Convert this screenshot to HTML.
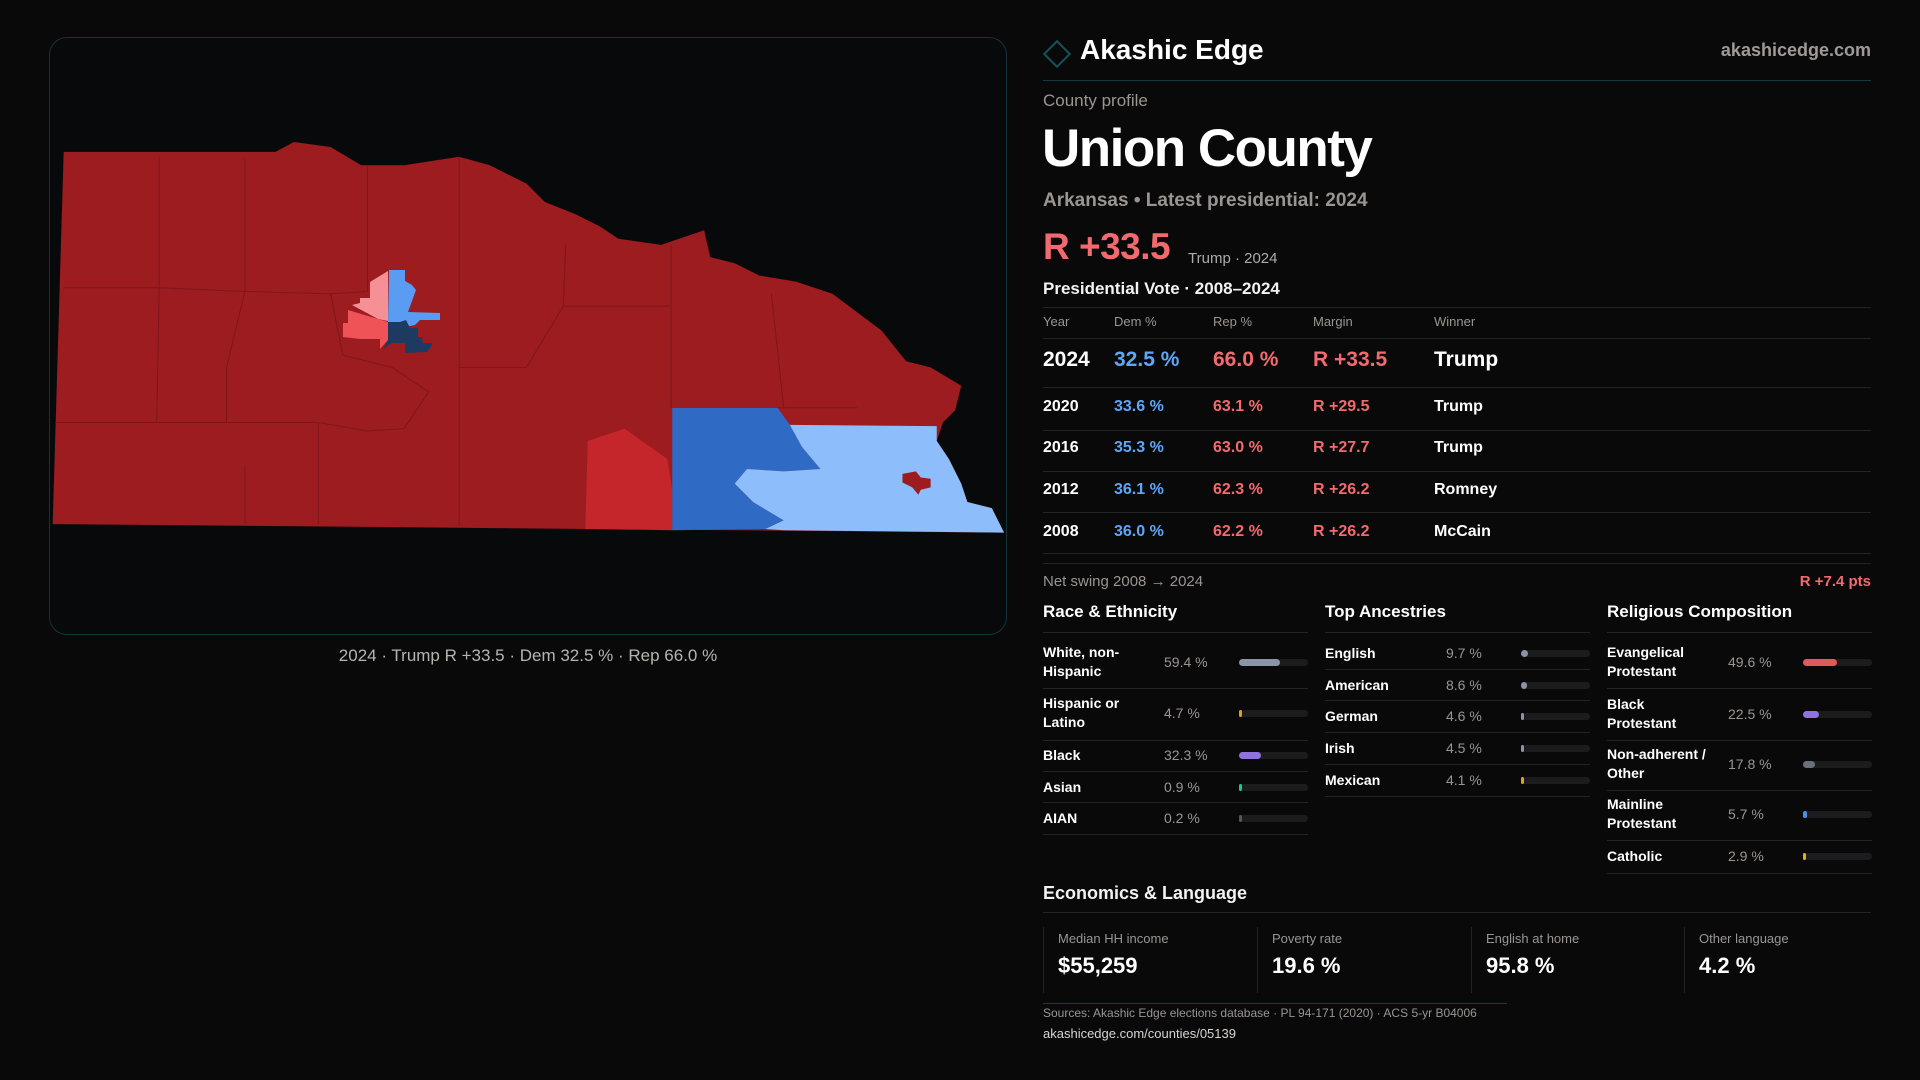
<!DOCTYPE html>
<html><head><meta charset="utf-8">
<style>
*{box-sizing:border-box;margin:0;padding:0}
body{width:1920px;height:1080px;background:#0a090a;font-family:"Liberation Sans",sans-serif;color:#f2f2f2;position:relative;overflow:hidden}
.a{position:absolute;white-space:nowrap}
.mut{color:#9a9590}
.red{color:#f26a6e}
.blue{color:#5ea6f7}
.row-line{position:absolute;height:1px;background:#242224}
.bar{position:absolute;height:7px;border-radius:4px;background:#1c1c1f}
.fill{position:absolute;left:0;top:0;height:7px;border-radius:4px}
</style></head><body>
<div class="a" style="left:49px;top:37px;width:958px;height:598px;border:1px solid #12343a;border-radius:18px;background:#08090a"></div>
<svg class="a" style="left:0;top:0" width="1920" height="1080" viewBox="0 0 1920 1080">
<g transform="scale(1.2245)">
<polygon fill="#9c1c20" points="52,124 225,124 240,116 270,120 295,135 330,135 375,128 400,135 430,150 445,165 470,175 490,185 505,195 540,200 575,188 580,210 600,215 620,225 650,230 680,240 700,255 720,270 740,295 760,300 785,315 780,335 770,345 765,360 775,375 785,395 790,410 810,415 820,435 43,428"/>
<g stroke="#7e1619" stroke-width="0.8" fill="none">
<path d="M52,235 L130,235 L130,128 M130,235 L200,238 L200,130 M200,238 L270,240 M270,240 L300,238 L300,135 M200,238 L185,300 L185,345 M130,235 L128,345 M45,345 L260,345 L260,370 M270,240 L280,290 L320,300 L350,320 L330,350 L300,352 L260,345 M375,128 L375,300 L430,300 L460,250 L462,200 M375,300 L375,430 M460,250 L548,250 L548,333 M548,250 L548,200 M548,333 L700,333 M630,240 L640,333 M200,380 L200,428 M260,370 L260,428"/>
</g>
<polygon fill="#c4262c" points="480,360 510,350 545,375 549,400 549,433 478,432"/>
<polygon fill="#2f6ac4" points="549,333 635,333 645,347 655,365 670,383 640,385 610,383 600,395 615,410 640,425 625,432 549,433"/>
<polygon fill="#8dbdfb" points="645,347 765,348 765,360 775,375 785,395 790,410 810,415 820,435 640,433 625,432 640,425 615,410 600,395 610,383 640,385 670,383 655,365"/>
<polygon fill="#9c1c20" points="737,387 748,385 752,390 760,391 760,398 752,400 750,404 745,398 737,394"/>
</g>
<polygon fill="#f59196" points="370,282 388,271 388,321 378,319 352,305 360,303 360,298 370,298"/>
<polygon fill="#ef5257" points="348,310 378,319 388,322 388,340 380,349 380,339 360,339 343,337 343,323 348,323"/>
<polygon fill="#5b9cf3" points="389,270 405,270 405,281 412,285 416,290 408,312 440,313 440,320 420,320 415,325 400,328 388,322"/>
<polygon fill="#1d3a60" points="388,322 400,322 406,320 410,328 418,328 418,337 422,337 423,343 432,343 432,345 427,352 405,353 405,343 392,343 383,349 388,340"/>
</svg>
<div class="a" style="left:0;width:1056px;text-align:center;top:646px;font-size:17px;color:#b8b3ae">2024 · Trump R +33.5 · Dem 32.5 % · Rep 66.0 %</div>

<div class="a" style="left:1047px;top:44px;width:20px;height:20px;border:2px solid #15535c;transform:rotate(45deg)"></div>
<div class="a" style="left:1080px;top:34px;font-size:28px;font-weight:bold;color:#fff">Akashic Edge</div>
<div class="a mut" style="right:49px;top:40px;font-size:18px;font-weight:bold;color:#a09a96">akashicedge.com</div>
<div class="a" style="left:1043px;top:80px;width:828px;height:1px;background:#173a40"></div>
<div class="a mut" style="left:1043px;top:91px;font-size:17px">County profile</div>
<div class="a" style="left:1042px;top:118px;font-size:53px;font-weight:bold;color:#fff;letter-spacing:-1.5px">Union County</div>
<div class="a mut" style="left:1043px;top:190px;font-size:19px;font-weight:bold">Arkansas • Latest presidential: 2024</div>
<div class="a red" style="left:1043px;top:226px;font-size:37px;font-weight:bold;letter-spacing:-0.5px">R +33.5</div>
<div class="a mut" style="left:1188px;top:250px;font-size:15px;color:#b0aaa5">Trump · 2024</div>
<div class="a" style="left:1043px;top:279px;font-size:17px;font-weight:bold">Presidential Vote · 2008–2024</div>

<div class="row-line" style="left:1043px;top:307px;width:828px"></div>
<div class="a mut" style="left:1043px;top:314px;font-size:13px">Year</div>
<div class="a mut" style="left:1114px;top:314px;font-size:13px">Dem %</div>
<div class="a mut" style="left:1213px;top:314px;font-size:13px">Rep %</div>
<div class="a mut" style="left:1313px;top:314px;font-size:13px">Margin</div>
<div class="a mut" style="left:1434px;top:314px;font-size:13px">Winner</div>
<div class="row-line" style="left:1043px;top:338px;width:828px"></div>
<div id="vt"></div>
<div class="row-line" style="left:1043px;top:563px;width:828px"></div>
<div class="a mut" style="left:1043px;top:573px;font-size:15px">Net swing 2008 → 2024</div>
<div class="a red" style="right:49px;top:573px;font-size:15px;font-weight:bold">R +7.4 pts</div>

<div id="sections"></div>

<div class="a" style="left:1043px;top:883px;font-size:18px;font-weight:bold">Economics &amp; Language</div>
<div class="row-line" style="left:1043px;top:912px;width:828px"></div>
<div id="econ"></div>
<div class="a" style="left:1043px;top:1003px;width:464px;height:1px;background:#173a40"></div>
<div class="a mut" style="left:1043px;top:1006px;font-size:12px">Sources: Akashic Edge elections database · PL 94-171 (2020) · ACS 5-yr B04006</div>
<div class="a" style="left:1043px;top:1026px;font-size:13px;color:#d8d4d0">akashicedge.com/counties/05139</div>

<script>
const years=["2024","2020","2016","2012","2008"];
const demPct=[32.5,33.6,35.3,36.1,36.0];
const repPct=[66.0,63.1,63.0,62.3,62.2];
const winners=["Trump","Trump","Trump","Romney","McCain"];
const raceLabels=["White, non-<br>Hispanic","Hispanic or<br>Latino","Black","Asian","AIAN"];
const raceValues=[59.4,4.7,32.3,0.9,0.2];
const ancLabels=["English","American","German","Irish","Mexican"];
const ancValues=[9.7,8.6,4.6,4.5,4.1];
const relLabels=["Evangelical<br>Protestant","Black<br>Protestant","Non-adherent /<br>Other","Mainline<br>Protestant","Catholic"];
const relValues=[49.6,22.5,17.8,5.7,2.9];
const econLabels=["Median HH income","Poverty rate","English at home","Other language"];
const econValues=["$55,259","19.6 %","95.8 %","4.2 %"];

function add(parent,html,style,name,cls){
  const d=document.createElement('div');
  d.className='a '+(cls||'');
  d.style.cssText=style;d.innerHTML=html;
  
  
  parent.appendChild(d);return d;
}
const vt=document.getElementById('vt');
const rowTops=[348,398,439,481,523];
const rowLines=[387,430,471,512,553];
years.forEach((y,i)=>{
  const big=i===0,fs=big?21:16,t=rowTops[i];
  const m=(repPct[i]-demPct[i]).toFixed(1);
  add(vt,y,`left:1043px;top:${t}px;font-size:${fs}px;font-weight:bold;color:#fff`,'year-'+y);
  add(vt,demPct[i].toFixed(1)+' %',`left:1114px;top:${t}px;font-size:${fs}px;font-weight:bold`,'dem-'+y,'blue');
  add(vt,repPct[i].toFixed(1)+' %',`left:1213px;top:${t}px;font-size:${fs}px;font-weight:bold`,'rep-'+y,'red');
  add(vt,'R +'+m,`left:1313px;top:${t}px;font-size:${fs}px;font-weight:bold`,'margin-'+y,'red');
  add(vt,winners[i],`left:1434px;top:${t}px;font-size:${fs}px;font-weight:bold;color:#fff`,'winner-'+y);
  add(vt,'',`left:1043px;top:${rowLines[i]}px;width:828px;height:1px;background:#242224`,'row-sep');
});

const sec=document.getElementById('sections');
function section(x,title,labels,vals,centers,seps,colors,key){
  add(sec,title,`left:${x}px;top:602px;font-size:17px;font-weight:bold;color:#fff`,key+'-title');
  add(sec,'',`left:${x}px;top:632px;width:265px;height:1px;background:#242224`,key+'-rule');
  labels.forEach((lb,i)=>{
    const c=centers[i],two=lb.includes('<br>');
    add(sec,lb,`left:${x}px;top:${c-(two?19:9)}px;font-size:14px;line-height:19px;font-weight:bold;color:#fff`,key+'-label');
    add(sec,vals[i].toFixed(1)+' %',`left:${x+121}px;top:${c-9}px;font-size:14px;line-height:19px`,key+'-value','mut');
    const b=add(sec,'',`left:${x+196}px;top:${c-3}px;width:69px`,key+'-bar','bar');
    const f=document.createElement('div');f.className='fill';
    f.style.width=Math.max(3,vals[i]/100*69)+'px';f.style.background=colors[i];
    
    
    b.appendChild(f);
    add(sec,'',`left:${x}px;top:${seps[i]}px;width:265px;height:1px;background:#242224`,key+'-sep');
  });
}
section(1043,'Race &amp; Ethnicity',raceLabels,raceValues,[662,713,755,787,818],[688,740,771,802,834],['#8a94a6','#e0a020','#8f72e0','#20c0a0','#555'],'race');
section(1325,'Top Ancestries',ancLabels,ancValues,[653,685,716,748,780],[669,700,732,764,796],['#8a94a6','#8a94a6','#8a94a6','#8a94a6','#e0a020'],'ancestry');
section(1607,'Religious Composition',relLabels,relValues,[662,714,764,814,856],[688,740,790,840,873],['#e05a5a','#8f72e0','#6b6f7a','#4a90e0','#e0b020'],'religion');

const ec=document.getElementById('econ');
const ex=[1043,1257,1471,1684];
econLabels.forEach((lb,i)=>{
  add(ec,'',`left:${ex[i]}px;top:927px;width:1px;height:66px;background:#242224`,'econ-divider');
  add(ec,lb,`left:${ex[i]+15}px;top:931px;font-size:13px`,'econ-label','mut');
  add(ec,econValues[i],`left:${ex[i]+15}px;top:953px;font-size:22px;font-weight:bold;color:#fff`,'econ-value');
});
</script>
</body></html>
